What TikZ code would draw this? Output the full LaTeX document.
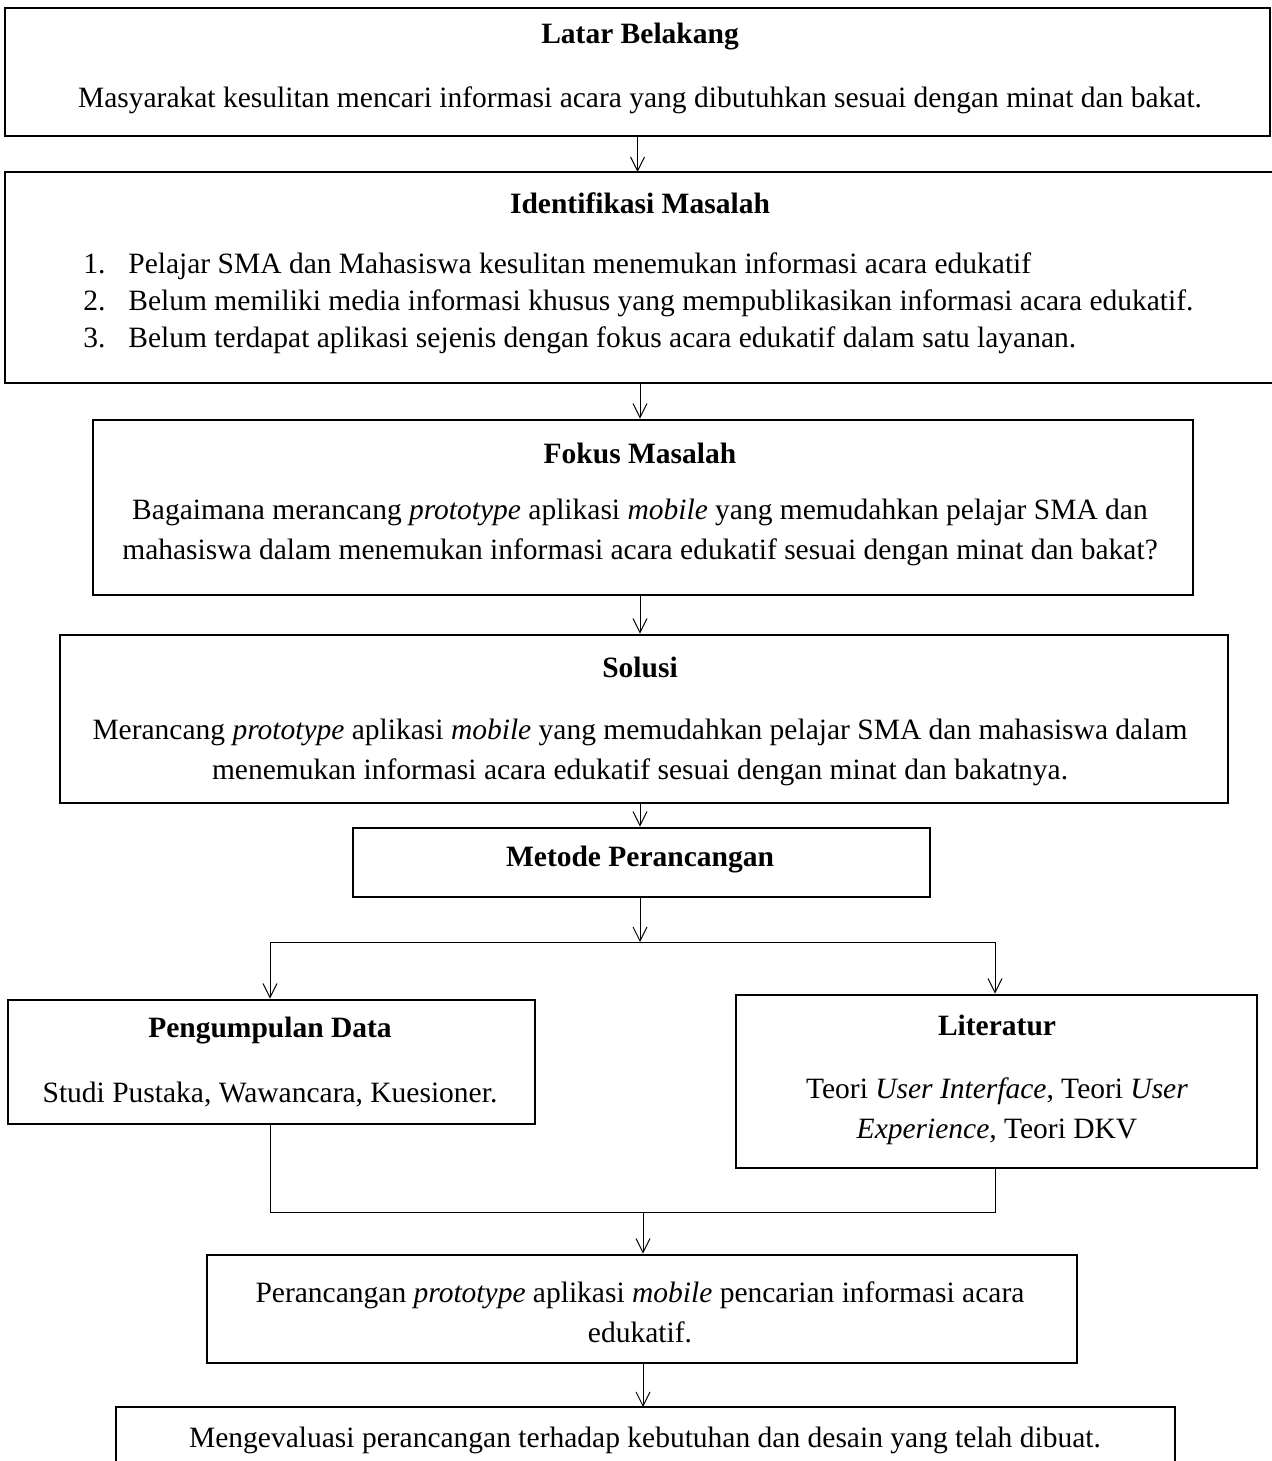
\documentclass[tikz,border=0pt]{standalone}
\usepackage{fontspec}
\setmainfont{Liberation Serif}
\usetikzlibrary{arrows.meta}
\begin{document}
\begin{tikzpicture}[x=0.5pt,y=-0.5pt,
  frame/.style={draw=black,line width=1.4pt,inner sep=0pt},
  txt/.style={font=\fontsize{14.75}{20}\selectfont,inner sep=0pt,align=center},
  ttl/.style={txt,font=\fontsize{14.75}{20}\selectfont\bfseries},
  conn/.style={line width=0.5pt},
  arr/.style={conn,-{Straight Barb[length=7pt,width=7pt,line width=0.5pt]}}]
\useasboundingbox (0,0) rectangle (1272,1461);
% boxes
\node[frame,minimum width=632.5pt,minimum height=64pt] (latar) at (637.5,72) {};
\coordinate (idmNW) at (5,172);
\coordinate (idmSW) at (5,383);
\coordinate (idmNE) at (1274,172);
\coordinate (idmSE) at (1274,383);
\draw[line width=1.4pt] (idmNE) -- (idmNW) -- (idmSW) -- (idmSE);
\node[inner sep=0pt,minimum width=634.5pt,minimum height=105.5pt] (idm) at (639.5,277.5) {};
\node[frame,minimum width=550pt,minimum height=87.5pt] (fokus) at (643,507.5) {};
\node[frame,minimum width=584pt,minimum height=84pt] (solusi) at (644,719) {};
\node[frame,minimum width=288.5pt,minimum height=34.5pt] (metode) at (641.5,862.5) {};
\node[frame,minimum width=263.5pt,minimum height=62pt] (kumpul) at (271.5,1062) {};
\node[frame,minimum width=260.5pt,minimum height=86.5pt] (lit) at (996.5,1081.5) {};
\node[frame,minimum width=435pt,minimum height=54pt] (rancang) at (642,1309) {};
\coordinate (evSW) at (116,1475);
\coordinate (evNW) at (116,1407);
\coordinate (evNE) at (1175,1407);
\coordinate (evSE) at (1175,1475);
\draw[line width=1.4pt] (evSW) -- (evNW) -- (evNE) -- (evSE);
\node[inner sep=0pt,minimum width=529.5pt,minimum height=27pt] (eval) at (645.5,1434) {};
% texts
\node[ttl] (latarT) at (640,37) {Latar Belakang};
\node[txt] (latarX) at (640,100) {Masyarakat kesulitan mencari informasi acara yang dibutuhkan sesuai dengan minat dan bakat.};
\node[ttl] (idmT) at (640,203) {Identifikasi Masalah};
\node[txt,anchor=base west] (n1) at (83,273) {1.};
\node[txt,anchor=base west] (n2) at (83,310) {2.};
\node[txt,anchor=base west] (n3) at (83,347) {3.};
\node[txt,anchor=base west] (i1) at (128,273) {Pelajar SMA dan Mahasiswa kesulitan menemukan informasi acara edukatif};
\node[txt,anchor=base west] (i2) at (128,310) {Belum memiliki media informasi khusus yang mempublikasikan informasi acara edukatif.};
\node[txt,anchor=base west] (i3) at (128,347) {Belum terdapat aplikasi sejenis dengan fokus acara edukatif dalam satu layanan.};
\node[ttl] (fokusT) at (640,453) {Fokus Masalah};
\node[txt] (fokusX) at (640,532) {Bagaimana merancang \textit{prototype} aplikasi \textit{mobile} yang memudahkan pelajar SMA dan\\mahasiswa dalam menemukan informasi acara edukatif sesuai dengan minat dan bakat?};
\node[ttl] (solusiT) at (640,667) {Solusi};
\node[txt] (solusiX) at (640,752) {Merancang \textit{prototype} aplikasi \textit{mobile} yang memudahkan pelajar SMA dan mahasiswa dalam\\menemukan informasi acara edukatif sesuai dengan minat dan bakatnya.};
\node[ttl] (metodeT) at (640,860) {Metode Perancangan};
\node[ttl] (kumpulT) at (270,1031) {Pengumpulan Data};
\node[txt] (kumpulX) at (270,1095) {Studi Pustaka, Wawancara, Kuesioner.};
\node[ttl] (litT) at (997,1025) {Literatur};
\node[txt] (litX) at (997,1111) {Teori \textit{User Interface}, Teori \textit{User}\\\textit{Experience,} Teori DKV};
\node[txt] (rancangX) at (640,1312) {Perancangan \textit{prototype} aplikasi \textit{mobile} pencarian informasi acara\\edukatif.};
\node[txt] (evalX) at (645,1440) {Mengevaluasi perancangan terhadap kebutuhan dan desain yang telah dibuat.};
% connectors
\coordinate (split) at (640,942);
\coordinate (splitL) at (270,942);
\coordinate (splitR) at (995,942);
\coordinate (joinL) at (270,1212);
\coordinate (joinR) at (995,1212);
\coordinate (join) at (643,1212);
\draw[arr] (latar.south) -- (latar.south |- idmNW);
\draw[arr] (640,383) -- (fokus.north -| 640,0);
\draw[arr] (fokus.south -| 640,0) -- (solusi.north -| 640,0);
\draw[arr] (solusi.south -| 640,0) -- (metode.north -| 640,0);
\draw[arr] (metode.south -| 640,0) -- (split);
\draw[conn] (splitL) -- (splitR);
\draw[arr] (splitL) -- (kumpul.north -| splitL);
\draw[arr] (splitR) -- (lit.north -| splitR);
\draw[conn] (kumpul.south -| joinL) -- (joinL) -- (joinR) -- (lit.south -| joinR);
\draw[arr] (join) -- (rancang.north -| join);
\draw[arr] (rancang.south -| join) -- (evNW -| join);
\end{tikzpicture}
\end{document}
